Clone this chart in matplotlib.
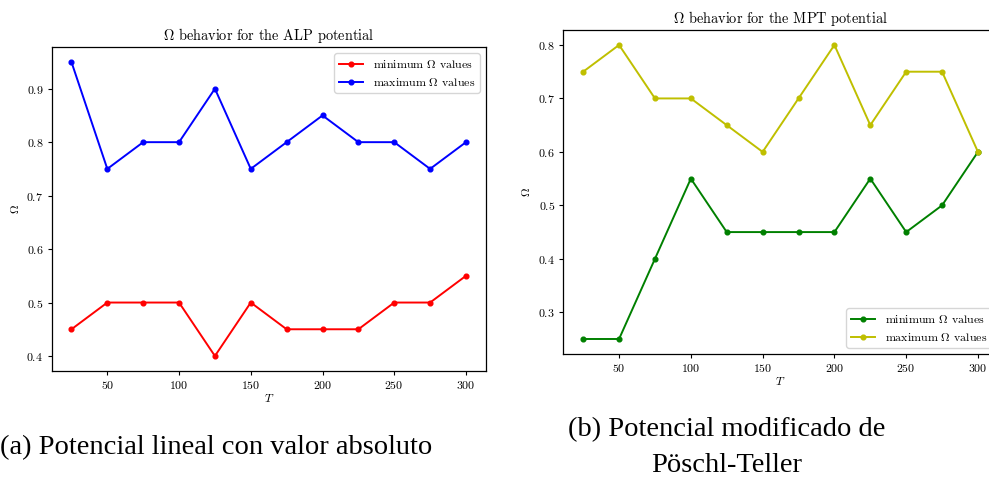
import matplotlib
matplotlib.use("Agg")
import matplotlib.pyplot as plt

# Temperatures sampled
T = [25, 50, 75, 100, 125, 150, 175, 200, 225, 250, 275, 300]

# ALP potential
alp_min = [0.45, 0.50, 0.50, 0.50, 0.40, 0.50, 0.45, 0.45, 0.45, 0.50, 0.50, 0.55]
alp_max = [0.95, 0.75, 0.80, 0.80, 0.90, 0.75, 0.80, 0.85, 0.80, 0.80, 0.75, 0.80]

# MPT potential
mpt_min = [0.25, 0.25, 0.40, 0.55, 0.45, 0.45, 0.45, 0.45, 0.55, 0.45, 0.50, 0.60]
mpt_max = [0.75, 0.80, 0.70, 0.70, 0.65, 0.60, 0.70, 0.80, 0.65, 0.75, 0.75, 0.60]

titles = [r"$\Omega$ behavior for the ALP potential",
          r"$\Omega$ behavior for the MPT potential"]
legend_labels = [r"minimum $\Omega$ values", r"maximum $\Omega$ values"]
captions_a = "(a) Potencial lineal con valor absoluto"
captions_b = ["(b) Potencial modificado de", "Pöschl-Teller"]

plt.rcParams["font.family"] = "cmr10"
plt.rcParams["mathtext.fontset"] = "cm"
plt.rcParams["axes.formatter.use_mathtext"] = True

FS = 8.6
FS_TITLE = 10.3
fig = plt.figure(figsize=(9.89, 4.79), dpi=100)

ax1 = fig.add_axes([0.0523, 0.2261, 0.4388, 0.6752])
ax2 = fig.add_axes([0.5697, 0.2616, 0.4391, 0.6752])

lw, ms = 1.4, 3.4
ax1.plot(T, alp_min, "-o", color="red", lw=lw, ms=ms, label=legend_labels[0])
ax1.plot(T, alp_max, "-o", color="blue", lw=lw, ms=ms, label=legend_labels[1])
ax1.set_yticks([0.4, 0.5, 0.6, 0.7, 0.8, 0.9])
ax1.legend(loc="upper right", fontsize=FS)

ax2.plot(T, mpt_min, "-o", color="green", lw=lw, ms=ms, label=legend_labels[0])
ax2.plot(T, mpt_max, "-o", color="y", lw=lw, ms=ms, label=legend_labels[1])
ax2.set_yticks([0.3, 0.4, 0.5, 0.6, 0.7, 0.8])
ax2.legend(loc="lower right", fontsize=FS)

for ax, title in zip((ax1, ax2), titles):
    ax.set_xticks([50, 100, 150, 200, 250, 300])
    ax.set_title(title, fontsize=FS_TITLE, pad=5)
    ax.set_xlabel(r"$T$", fontsize=FS, labelpad=1)
    ax.set_ylabel(r"$\Omega$", fontsize=FS, labelpad=4)
    ax.tick_params(labelsize=FS, length=3, width=0.8, pad=3)
    for s in ax.spines.values():
        s.set_linewidth(0.9)

cap_font = dict(family="Liberation Serif", fontsize=20.5, color="black")
fig.text(216 / 989, 1 - 454 / 479, captions_a, ha="center", va="baseline", **cap_font)
fig.text(727 / 989, 1 - 436 / 479, captions_b[0], ha="center", va="baseline", **cap_font)
fig.text(727 / 989, 1 - 472 / 479, captions_b[1], ha="center", va="baseline", **cap_font)

fig.savefig("out.png", dpi=100)
